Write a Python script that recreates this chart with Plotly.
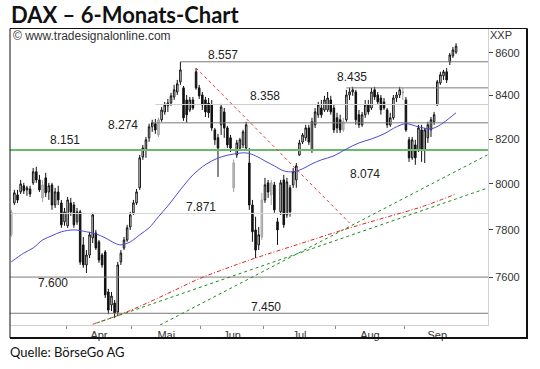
import math
import pandas as pd
import plotly.graph_objects as go

# ---- trading days (Xetra 2013) ----
holidays = ["2013-03-29", "2013-04-01", "2013-05-01"]
all_days = [d for d in pd.bdate_range("2013-03-05", "2013-09-30")
            if d.strftime("%Y-%m-%d") not in holidays]

# ---- daily OHLC ----
open_ = [7779, 7917, 7952, 7965, 7992, 7974, 7978, 8005, 8054, 8018,
         7939, 8027, 7965, 7996, 7908, 7965, 7917, 7835, 7818, 7917,
         7908, 7835, 7878, 7736, 7651, 7693, 7766, 7787, 7749, 7693,
         7706, 7538, 7484, 7492, 7455, 7664, 7723, 7757, 7813, 7874,
         7917, 7983, 8120, 8151, 8206, 8256, 8270, 8219, 8288, 8324,
         8352, 8365, 8393, 8416, 8463, 8435, 8379, 8333, 8379, 8510,
         8435, 8402, 8379, 8365, 8356, 8242, 8206, 8265, 8324, 8251,
         8206, 7983, 8129, 8160, 8174, 8160, 8093, 7908, 7800, 7736,
         7770, 7930, 8005, 7952, 7996, 7835, 7878, 8018, 7865, 7983,
         7996, 8018, 8129, 8187, 8206, 8251, 8151, 8265, 8311, 8342,
         8333, 8333, 8379, 8342, 8297, 8288, 8242, 8288, 8402, 8416,
         8416, 8311, 8265, 8311, 8356, 8342, 8426, 8402, 8388, 8370,
         8333, 8265, 8297, 8388, 8402, 8412, 8379, 8197, 8116, 8174,
         8151, 8242, 8151, 8206, 8242, 8279, 8356, 8458, 8491, 8510,
         8556, 8585, 8603]
high = [7887, 7974, 7974, 8018, 8005, 7992, 7992, 8071, 8076, 8040,
        8018, 8049, 8005, 8005, 7983, 7992, 7930, 7895, 7943, 7939,
        7921, 7895, 7887, 7770, 7714, 7792, 7874, 7800, 7757, 7701,
        7714, 7551, 7538, 7505, 7664, 7714, 7770, 7822, 7878, 7930,
        7978, 8129, 8174, 8210, 8270, 8288, 8292, 8297, 8347, 8370,
        8384, 8412, 8449, 8472, 8557, 8444, 8402, 8393, 8393, 8528,
        8449, 8416, 8393, 8388, 8379, 8251, 8224, 8361, 8342, 8260,
        8219, 8107, 8197, 8206, 8242, 8279, 8160, 7930, 7857, 7813,
        7961, 8027, 8018, 8018, 8009, 7852, 8018, 8040, 8027, 7996,
        8071, 8093, 8197, 8228, 8265, 8265, 8297, 8342, 8370, 8379,
        8398, 8416, 8398, 8356, 8320, 8311, 8297, 8426, 8435, 8440,
        8426, 8333, 8324, 8379, 8379, 8435, 8440, 8416, 8402, 8388,
        8342, 8320, 8402, 8416, 8440, 8435, 8393, 8210, 8210, 8197,
        8265, 8265, 8251, 8279, 8301, 8324, 8472, 8510, 8519, 8528,
        8599, 8627, 8645]
low = [7770, 7908, 7917, 7956, 7956, 7948, 7943, 7996, 8005, 7965,
       7921, 7943, 7930, 7887, 7895, 7908, 7809, 7818, 7809, 7861,
       7809, 7822, 7651, 7639, 7617, 7680, 7744, 7714, 7660, 7639,
       7513, 7446, 7459, 7430, 7438, 7651, 7714, 7749, 7800, 7865,
       7908, 7974, 8107, 8116, 8188, 8233, 8224, 8210, 8279, 8311,
       8324, 8352, 8379, 8402, 8449, 8283, 8274, 8324, 8333, 8426,
       8384, 8333, 8301, 8297, 8238, 8174, 8031, 8219, 8206, 8160,
       8142, 7965, 8116, 8151, 8160, 8151, 7887, 7749, 7680, 7714,
       7757, 7917, 7939, 7908, 7874, 7736, 7865, 7809, 7852, 7857,
       7983, 7983, 8125, 8178, 8192, 8174, 8138, 8251, 8297, 8297,
       8324, 8324, 8311, 8228, 8228, 8228, 8233, 8279, 8379, 8398,
       8265, 8251, 8256, 8297, 8311, 8333, 8379, 8356, 8311, 8333,
       8251, 8256, 8288, 8370, 8388, 8379, 8233, 8098, 8107, 8085,
       8142, 8098, 8093, 8183, 8210, 8265, 8352, 8449, 8472, 8458,
       8542, 8575, 8594]
close = [7878, 7961, 7930, 8000, 7970, 7983, 7956, 8054, 8018, 7974,
         7996, 7961, 7992, 7908, 7965, 7930, 7822, 7878, 7930, 7878,
         7822, 7878, 7663, 7651, 7693, 7779, 7865, 7723, 7672, 7651,
         7526, 7463, 7521, 7451, 7651, 7701, 7757, 7809, 7865, 7917,
         7965, 8116, 8160, 8197, 8256, 8274, 8242, 8288, 8333, 8356,
         8365, 8398, 8426, 8454, 8519, 8297, 8311, 8379, 8342, 8435,
         8398, 8356, 8324, 8320, 8251, 8197, 8160, 8347, 8251, 8174,
         8160, 8093, 8183, 8197, 8233, 8265, 7908, 7792, 7714, 7779,
         7930, 7996, 7965, 8005, 7887, 7800, 8005, 7822, 8009, 7878,
         8054, 8080, 8183, 8219, 8251, 8187, 8279, 8324, 8356, 8311,
         8379, 8388, 8324, 8242, 8251, 8242, 8279, 8402, 8416, 8426,
         8288, 8265, 8311, 8356, 8324, 8416, 8393, 8370, 8333, 8342,
         8265, 8297, 8388, 8402, 8426, 8416, 8242, 8116, 8197, 8116,
         8251, 8151, 8242, 8265, 8288, 8311, 8463, 8496, 8510, 8472,
         8589, 8613, 8631]
gray_days = [0, 10, 47, 71, 80, 83, 106, 125]

# moving averages (day index, value)
ma_blue_x = [0, 4, 7, 10, 13, 16, 20, 24, 27, 30, 33, 35, 38, 41, 44, 47, 50, 52,
             55, 58, 61, 64, 67, 71, 75, 78, 81, 84, 87, 90, 93, 96, 99, 103,
             107, 111, 115, 119, 123, 126, 130, 134, 137, 140, 142]
ma_blue_y = [7664, 7701, 7723, 7757, 7775, 7792, 7800, 7792, 7783, 7766, 7744, 7736,
             7749, 7779, 7809, 7857, 7904, 7939, 7992, 8040, 8076, 8102, 8120, 8133,
             8138, 8125, 8102, 8080, 8058, 8054, 8067, 8089, 8107, 8125, 8156, 8183,
             8201, 8224, 8256, 8270, 8256, 8247, 8265, 8297, 8320]
ma_red_x = [26, 35, 42, 51, 60, 70, 80, 92, 105, 118, 131, 142]
ma_red_y = [7405, 7446, 7484, 7538, 7593, 7643, 7689, 7740, 7796, 7848, 7900, 7956]

# trend lines (day index, value)
trend_down_x, trend_down_y = [59, 108], [8528, 7830]
trend_up1_x, trend_up1_y = [27.3, 152], [7410, 7982]
trend_up2_x, trend_up2_y = [47.5, 152], [7402, 8129]

# horizontal levels
levels = [8557, 8435, 8358, 8274, 8151, 7871, 7600, 7450]
level_start = [54, 107, 46, 45, -0.5, -0.5, -0.5, -0.5]
level_text = ["8.557", "8.435", "8.358", "8.274", "8.151", "8.074", "7.871", "7.600", "7.450"]
level_text_val = [8557, 8435, 8358, 8274, 8151, 8074, 7871, 7600, 7450]
level_text_x = [67.6, 108.8, 81.0, 35.7, 17.2, 113.0, 60.6, 13.3, 81.4]
level_text_shift = [7, 11, 9, -2, 10, -7, 6, -6, 6]

y_ticks = [7600, 7800, 8000, 8200, 8400, 8600]
month_names = {4: "Apr", 5: "Mai", 6: "Jun", 7: "Jul", 8: "Aug", 9: "Sep"}

n = len(close)
days = list(range(n))
x_end = 152.2

centers, bounds = [], []
for m in month_names:
    ii = [i for i, d in enumerate(all_days) if d.month == m]
    centers.append((ii[0] + ii[-1]) / 2)
    bounds.append(ii[0] - 0.5)

fig = go.Figure()

# level lines
level_style = {8557: ("#7a7a7a", 1), 8435: ("#7a7a7a", 1), 8358: ("#cfcfcf", 1),
               8274: ("#7a7a7a", 1), 8151: ("#6cb86c", 2), 7871: ("#d6d6d6", 1),
               7600: ("#7a7a7a", 1), 7450: ("#7a7a7a", 1)}
for lv, xs in zip(levels, level_start):
    c, w = level_style[lv]
    fig.add_trace(go.Scatter(x=[xs, x_end], y=[lv, lv], mode="lines",
                             line=dict(color=c, width=w), hoverinfo="skip", showlegend=False))

# moving averages
fig.add_trace(go.Scatter(x=ma_red_x, y=ma_red_y, mode="lines", line_shape="spline",
                         line=dict(color="#e02424", width=1, dash="4px,2px,1px,2px"),
                         hoverinfo="skip", showlegend=False))
fig.add_trace(go.Scatter(x=ma_blue_x, y=ma_blue_y, mode="lines", line_shape="spline",
                         line=dict(color="#4a4ad6", width=1),
                         hoverinfo="skip", showlegend=False))
# trend lines
for tx, ty, col in [(trend_up1_x, trend_up1_y, "#1f8a1f"), (trend_up2_x, trend_up2_y, "#1f8a1f"),
                    (trend_down_x, trend_down_y, "#e23a3a")]:
    fig.add_trace(go.Scatter(x=tx, y=ty, mode="lines", line=dict(color=col, width=1, dash="dot"),
                             hoverinfo="skip", showlegend=False))

# candles
main = [i for i in days if i not in gray_days]
fig.add_trace(go.Candlestick(
    x=main, open=[open_[i] for i in main], high=[high[i] for i in main],
    low=[low[i] for i in main], close=[close[i] for i in main],
    increasing=dict(line=dict(color="#111111", width=1), fillcolor="#ffffff"),
    decreasing=dict(line=dict(color="#111111", width=1), fillcolor="#111111"),
    showlegend=False))
fig.add_trace(go.Candlestick(
    x=gray_days, open=[open_[i] for i in gray_days], high=[high[i] for i in gray_days],
    low=[low[i] for i in gray_days], close=[close[i] for i in gray_days],
    increasing=dict(line=dict(color="#a0a0a0", width=1), fillcolor="#c8c8c8"),
    decreasing=dict(line=dict(color="#a0a0a0", width=1), fillcolor="#c8c8c8"),
    showlegend=False))

annotations = []
for t, v, xx, sh in zip(level_text, level_text_val, level_text_x, level_text_shift):
    annotations.append(dict(x=xx, y=math.log10(v), xref="x", yref="y", text=t, showarrow=False,
                            yshift=sh, font=dict(family="Liberation Sans", size=12, color="#222")))

L, R, T, B, W, H = 10, 52, 29, 44, 540, 369
pw, ph = W - L - R, H - T - B
def px(xp): return (xp - L) / pw
def py(yp): return (H - B - yp) / ph

annotations += [
    dict(x=px(9), y=py(14), xref="paper", yref="paper", xanchor="left", yanchor="middle",
         text="<b>DAX – 6-Monats-Chart</b>", showarrow=False,
         font=dict(family="Lato", size=22, color="#111")),
    dict(x=px(8), y=py(352), xref="paper", yref="paper", xanchor="left", yanchor="middle",
         text="Quelle: BörseGo AG", showarrow=False,
         font=dict(family="Lato", size=13, color="#111")),
    dict(x=px(11), y=py(36), xref="paper", yref="paper", xanchor="left", yanchor="middle",
         text="© www.tradesignalonline.com", showarrow=False,
         font=dict(family="Liberation Sans", size=12, color="#333")),
    dict(x=px(501), y=py(35), xref="paper", yref="paper", xanchor="center", yanchor="middle",
         text="XXP", showarrow=False,
         font=dict(family="Liberation Sans", size=11, color="#333")),
]

shapes = [
    dict(type="rect", xref="paper", yref="paper", x0=px(10), x1=px(527), y0=py(338), y1=py(28.5),
         line=dict(color="#111", width=1)),
    dict(type="line", xref="paper", yref="paper", x0=px(10), x1=px(528), y0=py(338), y1=py(338),
         line=dict(color="#111", width=2)),
    dict(type="line", xref="paper", yref="paper", x0=px(527), x1=px(527), y0=py(28.5), y1=py(338),
         line=dict(color="#111", width=2)),
]

fig.update_layout(
    width=W, height=H, margin=dict(l=L, r=R, t=T, b=B),
    paper_bgcolor="white", plot_bgcolor="white",
    annotations=annotations, shapes=shapes, hovermode=False,
    xaxis=dict(range=[-0.4, x_end], showgrid=False, zeroline=False,
               tickmode="array", tickvals=centers, ticktext=list(month_names.values()),
               ticks="", tickfont=dict(family="Liberation Sans", size=11, color="#333"),
               showline=True, linecolor="#d0d0d0", rangeslider=dict(visible=False),
               minor=dict(tickmode="array", tickvals=bounds, ticks="outside", ticklen=3,
                          tickcolor="#888", showgrid=False)),
    yaxis=dict(type="log", side="right", range=[math.log10(7402), math.log10(8713)],
               tickmode="array", tickvals=y_ticks, ticktext=[str(v) for v in y_ticks],
               ticks="outside", ticklen=4, tickcolor="#444", showgrid=False, zeroline=False,
               showline=True, linecolor="#d0d0d0",
               tickfont=dict(family="Liberation Sans", size=11, color="#333")),
)

fig.write_html("out.html", config={"displayModeBar": False},
               post_script="document.body.style.margin='0px';")
